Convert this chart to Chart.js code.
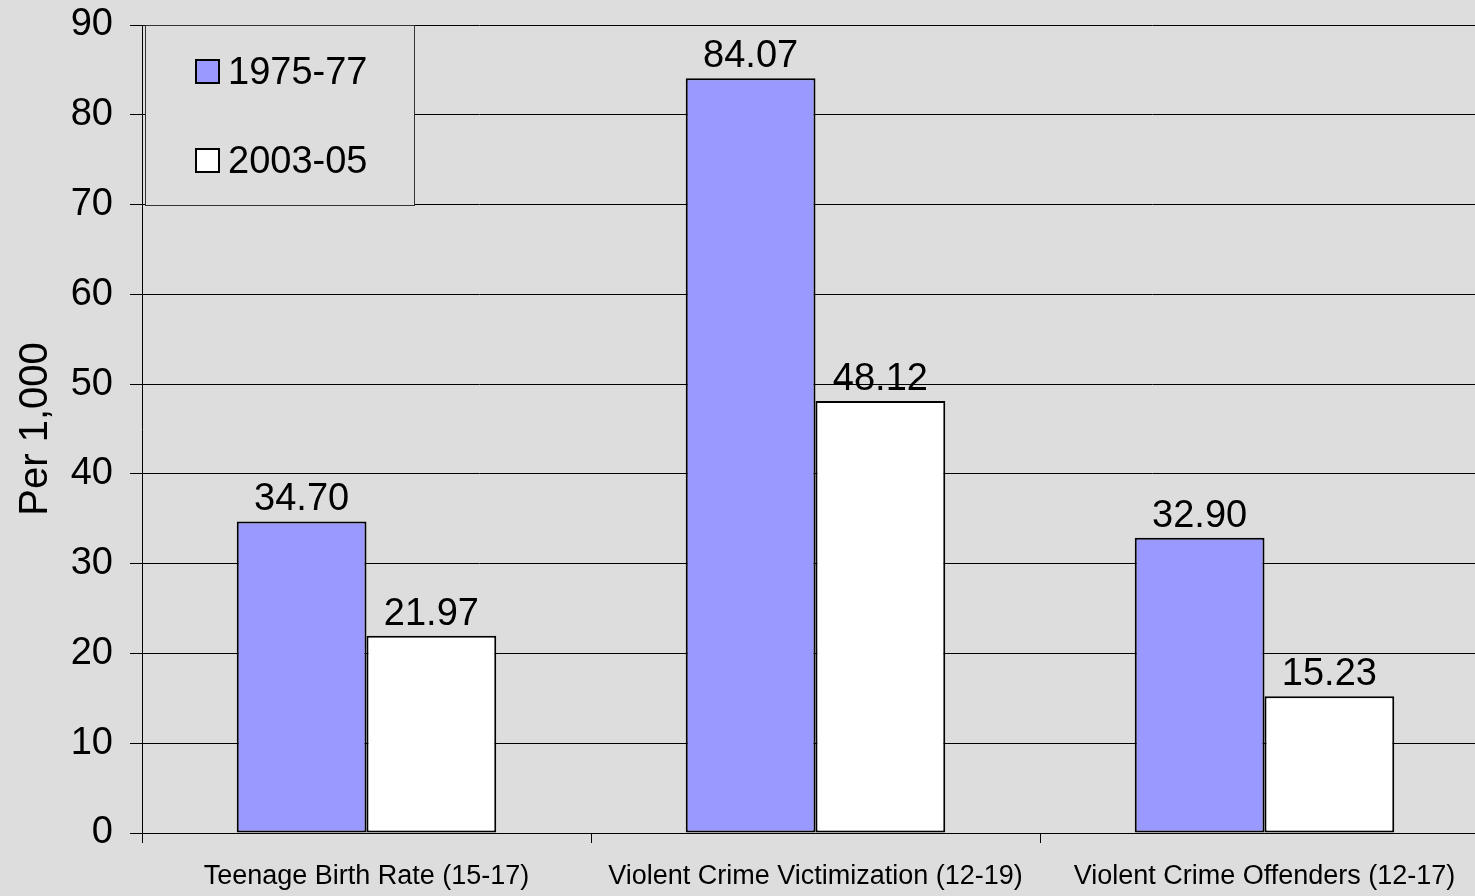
<!DOCTYPE html>
<html>
<head>
<meta charset="utf-8">
<script src="https://cdn.jsdelivr.net/npm/chart.js@4/dist/chart.umd.min.js"></script>
<style>
    html, body { margin: 0; padding: 0; background: #dddddd; overflow: hidden; }
    canvas { display: block; }
</style>
</head>
<body>
<canvas id="myBarChart" width="1490" height="896"></canvas>
<script>
const categories = ['Teenage Birth Rate (15-17)', 'Violent Crime Victimization (12-19)', 'Violent Crime Offenders (12-17)'];
const seriesNames = ['1975-77', '2003-05'];
const values7577 = [34.70, 84.07, 32.90];
const values0305 = [21.97, 48.12, 15.23];
const yTicks = [0, 10, 20, 30, 40, 50, 60, 70, 80, 90];

const FONT = 'Liberation Sans, Arial, sans-serif';

// label angka di atas batang
const valueLabels = {
    id: 'valueLabels',
    afterDatasetsDraw(chart) {
        const ctx = chart.ctx;
        ctx.save();
        ctx.font = '38px ' + FONT;
        ctx.fillStyle = '#000';
        ctx.textAlign = 'center';
        ctx.textBaseline = 'alphabetic';
        chart.data.datasets.forEach((ds, i) => {
            chart.getDatasetMeta(i).data.forEach((bar, j) => {
                ctx.fillText(ds.data[j].toFixed(2), bar.x, bar.y - 11);
            });
        });
        ctx.restore();
    }
};

// legend kotak di dalam area plot (kiri atas)
const boxLegend = {
    id: 'boxLegend',
    afterDraw(chart) {
        const ctx = chart.ctx;
        ctx.save();
        ctx.fillStyle = '#dddddd';
        ctx.fillRect(145, 25, 269, 180);
        ctx.strokeStyle = '#333';
        ctx.lineWidth = 1;
        ctx.strokeRect(145.5, 25.5, 269, 180);
        ctx.font = '38px ' + FONT;
        ctx.textBaseline = 'middle';
        chart.data.datasets.forEach((ds, i) => {
            const y = 72 + i * 89;
            ctx.fillStyle = ds.backgroundColor;
            ctx.fillRect(196, y - 12, 23, 23);
            ctx.strokeStyle = '#000';
            ctx.lineWidth = 2;
            ctx.strokeRect(196, y - 12, 23, 23);
            ctx.fillStyle = '#000';
            ctx.textAlign = 'left';
            ctx.fillText(ds.label, 228, y + 2);
        });
        ctx.restore();
    }
};

const ctxBar = document.getElementById('myBarChart').getContext('2d');
const myBarChart = new Chart(ctxBar, {
    type: 'bar',
    data: {
        labels: categories,
        datasets: [{
            label: seriesNames[0],
            data: values7577,
            backgroundColor: '#9999ff',
            borderColor: '#000',
            borderWidth: 2,
            borderSkipped: false
        }, {
            label: seriesNames[1],
            data: values0305,
            backgroundColor: '#ffffff',
            borderColor: '#000',
            borderWidth: 2,
            borderSkipped: false
        }]
    },
    options: {
        responsive: false,
        animation: false,
        layout: { padding: { top: 25, right: 1, left: 0, bottom: 0 } },
        categoryPercentage: 0.578,
        barPercentage: 1,
        plugins: {
            legend: { display: false },
            tooltip: { enabled: false }
        },
        scales: {
            x: {
                offset: true,
                grid: {
                    offset: true,
                    drawOnChartArea: false,
                    color: '#000',
                    tickLength: 10
                },
                border: { color: '#000', width: 1 },
                ticks: {
                    color: '#000',
                    font: { family: FONT, size: 27 },
                    padding: 17,
                    maxRotation: 0,
                    autoSkip: false
                },
                afterFit: s => { s.height = 63; }
            },
            y: {
                min: 0,
                max: 90,
                afterBuildTicks: s => { s.ticks = yTicks.map(v => ({ value: v })); },
                grid: {
                    color: '#000',
                    lineWidth: 1,
                    tickLength: 12
                },
                border: { color: '#000', width: 1 },
                ticks: {
                    color: '#000',
                    font: { family: FONT, size: 38 },
                    padding: 17
                },
                title: {
                    display: true,
                    text: 'Per 1,000',
                    color: '#000',
                    font: { family: FONT, size: 40 },
                    padding: { top: 12, bottom: 0 }
                },
                afterFit: s => {
                    s.width = 142;
                    s.paddingTop = 0;
                    s.paddingBottom = 0;
                }
            }
        }
    },
    plugins: [valueLabels, boxLegend]
});
</script>
</body>
</html>
